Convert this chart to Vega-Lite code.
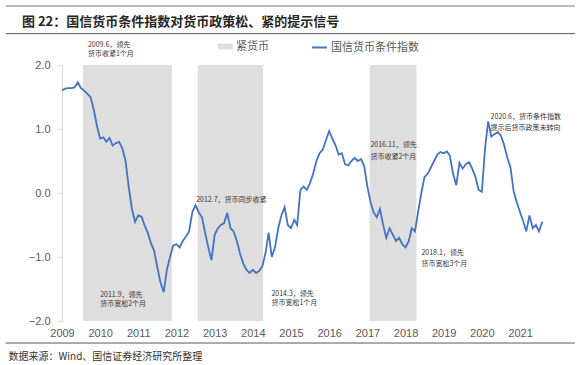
{
  "$schema": "https://vega.github.io/schema/vega-lite/v6.json",
  "width": 479,
  "height": 256,
  "autosize": {"type": "none"},
  "padding": {"left": 62, "top": 65, "right": 40, "bottom": 44},
  "background": "white",
  "title": {
    "text": "图 22：国信货币条件指数对货币政策松、紧的提示信号",
    "anchor": "start",
    "frame": "group",
    "dx": -40,
    "offset": -37,
    "baseline": "bottom",
    "font": "Noto Sans CJK SC",
    "fontSize": 13,
    "fontWeight": "bold",
    "color": "#262626"
  },
  "config": {
    "view": {"stroke": null},
    "axisY": {
      "domainColor": "#d9d9d9",
      "tickColor": "#d9d9d9",
      "tickSize": 4,
      "labelColor": "#595959",
      "labelFont": "Liberation Sans",
      "labelFontSize": 11,
      "labelPadding": 8,
      "grid": false
    },
    "axisX": {
      "domain": false,
      "ticks": false,
      "grid": false,
      "labelOverlap": false,
      "labelColor": "#595959",
      "labelFont": "Liberation Sans",
      "labelFontSize": 11,
      "labelPadding": 6,
      "titleAnchor": "start",
      "titleX": -54,
      "titleY": 35,
      "titleAlign": "left",
      "titleBaseline": "middle",
      "titleFont": "Noto Sans CJK SC",
      "titleFontSize": 10,
      "titleFontWeight": "normal",
      "titleColor": "#333333"
    }
  },
  "layer": [
    {
      "data": {"values": [
        {"start": "2009-07-20", "end": "2011-11-18"},
        {"start": "2012-07-22", "end": "2014-04-08"},
        {"start": "2017-01-22", "end": "2018-04-15"}
      ]},
      "mark": {"type": "rect"},
      "encoding": {
        "x": {"field": "start", "type": "temporal", "title": "数据来源：Wind、国信证券经济研究所整理",
              "scale": {"domain": ["2009-01-01", "2021-07-20"]}},
        "x2": {"field": "end"},
        "fill": {
          "datum": "紧货币",
          "type": "nominal",
          "scale": {"range": ["#dedede"]},
          "legend": {
            "orient": "none", "legendX": 156, "legendY": -26, "title": null, "padding": 0,
            "symbolType": "M-1,-0.4H1V0.4H-1Z", "symbolSize": 225, "symbolStrokeWidth": 0,
            "labelFont": "Noto Sans CJK SC", "labelFontSize": 11, "labelColor": "#595959", "labelOffset": 3
          }
        }
      }
    },
    {
      "data": {"values": [
        {"d": "2009-01-01", "v": 1.60}, {"d": "2009-02-01", "v": 1.63}, {"d": "2009-03-01", "v": 1.64}, {"d": "2009-04-01", "v": 1.64},
        {"d": "2009-05-01", "v": 1.65}, {"d": "2009-06-01", "v": 1.73}, {"d": "2009-07-01", "v": 1.64}, {"d": "2009-08-01", "v": 1.60},
        {"d": "2009-09-01", "v": 1.55}, {"d": "2009-10-01", "v": 1.50}, {"d": "2009-11-01", "v": 1.30}, {"d": "2009-12-01", "v": 1.05},
        {"d": "2010-01-01", "v": 0.85}, {"d": "2010-02-01", "v": 0.87}, {"d": "2010-03-01", "v": 0.80}, {"d": "2010-04-01", "v": 0.86},
        {"d": "2010-05-01", "v": 0.74}, {"d": "2010-06-01", "v": 0.78}, {"d": "2010-07-01", "v": 0.80}, {"d": "2010-08-01", "v": 0.70},
        {"d": "2010-09-01", "v": 0.50}, {"d": "2010-10-01", "v": 0.10}, {"d": "2010-11-01", "v": -0.25}, {"d": "2010-12-01", "v": -0.45},
        {"d": "2011-01-01", "v": -0.35}, {"d": "2011-02-01", "v": -0.37}, {"d": "2011-03-01", "v": -0.50}, {"d": "2011-04-01", "v": -0.62},
        {"d": "2011-05-01", "v": -0.78}, {"d": "2011-06-01", "v": -0.90}, {"d": "2011-07-01", "v": -1.15}, {"d": "2011-08-01", "v": -1.40},
        {"d": "2011-09-01", "v": -1.55}, {"d": "2011-10-01", "v": -1.20}, {"d": "2011-11-01", "v": -1.00}, {"d": "2011-12-01", "v": -0.82},
        {"d": "2012-01-01", "v": -0.80}, {"d": "2012-02-01", "v": -0.85}, {"d": "2012-03-01", "v": -0.75}, {"d": "2012-04-01", "v": -0.68},
        {"d": "2012-05-01", "v": -0.60}, {"d": "2012-06-01", "v": -0.30}, {"d": "2012-07-01", "v": -0.19}, {"d": "2012-08-01", "v": -0.30},
        {"d": "2012-09-01", "v": -0.38}, {"d": "2012-10-01", "v": -0.62}, {"d": "2012-11-01", "v": -0.85}, {"d": "2012-12-01", "v": -1.05},
        {"d": "2013-01-01", "v": -0.65}, {"d": "2013-02-01", "v": -0.55}, {"d": "2013-03-01", "v": -0.50}, {"d": "2013-04-01", "v": -0.47},
        {"d": "2013-05-01", "v": -0.31}, {"d": "2013-06-01", "v": -0.55}, {"d": "2013-07-01", "v": -0.60}, {"d": "2013-08-01", "v": -0.75},
        {"d": "2013-09-01", "v": -0.95}, {"d": "2013-10-01", "v": -1.10}, {"d": "2013-11-01", "v": -1.20}, {"d": "2013-12-01", "v": -1.25},
        {"d": "2014-01-01", "v": -1.20}, {"d": "2014-02-01", "v": -1.25}, {"d": "2014-03-01", "v": -1.22}, {"d": "2014-04-01", "v": -1.15},
        {"d": "2014-05-01", "v": -0.95}, {"d": "2014-06-01", "v": -0.62}, {"d": "2014-07-01", "v": -1.00}, {"d": "2014-08-01", "v": -0.85},
        {"d": "2014-09-01", "v": -0.55}, {"d": "2014-10-01", "v": -0.35}, {"d": "2014-11-01", "v": -0.22}, {"d": "2014-12-01", "v": -0.50},
        {"d": "2015-01-01", "v": -0.55}, {"d": "2015-02-01", "v": -0.42}, {"d": "2015-03-01", "v": -0.50}, {"d": "2015-04-01", "v": 0.05},
        {"d": "2015-05-01", "v": 0.10}, {"d": "2015-06-01", "v": 0.05}, {"d": "2015-07-01", "v": 0.15}, {"d": "2015-08-01", "v": 0.30},
        {"d": "2015-09-01", "v": 0.50}, {"d": "2015-10-01", "v": 0.62}, {"d": "2015-11-01", "v": 0.68}, {"d": "2015-12-01", "v": 0.82},
        {"d": "2016-01-01", "v": 0.97}, {"d": "2016-02-01", "v": 0.85}, {"d": "2016-03-01", "v": 0.75}, {"d": "2016-04-01", "v": 0.60},
        {"d": "2016-05-01", "v": 0.62}, {"d": "2016-06-01", "v": 0.45}, {"d": "2016-07-01", "v": 0.43}, {"d": "2016-08-01", "v": 0.50},
        {"d": "2016-09-01", "v": 0.55}, {"d": "2016-10-01", "v": 0.50}, {"d": "2016-11-01", "v": 0.53}, {"d": "2016-12-01", "v": 0.42},
        {"d": "2017-01-01", "v": 0.10}, {"d": "2017-02-01", "v": -0.15}, {"d": "2017-03-01", "v": -0.30}, {"d": "2017-04-01", "v": -0.38},
        {"d": "2017-05-01", "v": -0.25}, {"d": "2017-06-01", "v": -0.50}, {"d": "2017-07-01", "v": -0.70}, {"d": "2017-08-01", "v": -0.55},
        {"d": "2017-09-01", "v": -0.65}, {"d": "2017-10-01", "v": -0.75}, {"d": "2017-11-01", "v": -0.70}, {"d": "2017-12-01", "v": -0.80},
        {"d": "2018-01-01", "v": -0.85}, {"d": "2018-02-01", "v": -0.75}, {"d": "2018-03-01", "v": -0.55}, {"d": "2018-04-01", "v": -0.60},
        {"d": "2018-05-01", "v": -0.30}, {"d": "2018-06-01", "v": 0.00}, {"d": "2018-07-01", "v": 0.25}, {"d": "2018-08-01", "v": 0.30},
        {"d": "2018-09-01", "v": 0.40}, {"d": "2018-10-01", "v": 0.50}, {"d": "2018-11-01", "v": 0.60}, {"d": "2018-12-01", "v": 0.64},
        {"d": "2019-01-01", "v": 0.62}, {"d": "2019-02-01", "v": 0.65}, {"d": "2019-03-01", "v": 0.58}, {"d": "2019-04-01", "v": 0.30},
        {"d": "2019-05-01", "v": 0.12}, {"d": "2019-06-01", "v": 0.47}, {"d": "2019-07-01", "v": 0.38}, {"d": "2019-08-01", "v": 0.45},
        {"d": "2019-09-01", "v": 0.48}, {"d": "2019-10-01", "v": 0.38}, {"d": "2019-11-01", "v": 0.25}, {"d": "2019-12-01", "v": 0.05},
        {"d": "2020-01-01", "v": 0.02}, {"d": "2020-02-01", "v": 0.70}, {"d": "2020-03-01", "v": 1.12}, {"d": "2020-04-01", "v": 0.88},
        {"d": "2020-05-01", "v": 0.92}, {"d": "2020-06-01", "v": 0.95}, {"d": "2020-07-01", "v": 0.90}, {"d": "2020-08-01", "v": 0.75},
        {"d": "2020-09-01", "v": 0.55}, {"d": "2020-10-01", "v": 0.40}, {"d": "2020-11-01", "v": 0.02}, {"d": "2020-12-01", "v": -0.15},
        {"d": "2021-01-01", "v": -0.30}, {"d": "2021-02-01", "v": -0.45}, {"d": "2021-03-01", "v": -0.60}, {"d": "2021-04-01", "v": -0.35},
        {"d": "2021-05-01", "v": -0.55}, {"d": "2021-06-01", "v": -0.50}, {"d": "2021-07-01", "v": -0.60}, {"d": "2021-08-01", "v": -0.45}
      ]},
      "mark": {"type": "line", "strokeWidth": 1.8, "clip": false},
      "encoding": {
        "x": {"field": "d", "type": "temporal", "title": "数据来源：Wind、国信证券经济研究所整理",
              "scale": {"domain": ["2009-01-01", "2021-07-20"]},
              "axis": {"format": "%Y", "labelOverlap": false, "labelBound": false, "labelFlush": false, "tickCount": 13,
                "values": ["2009-01-01", "2010-01-01", "2011-01-01", "2012-01-01", "2013-01-01", "2014-01-01", "2015-01-01",
                           "2016-01-01", "2017-01-01", "2018-01-01", "2019-01-01", "2020-01-01", "2021-01-01"]}},
        "y": {"field": "v", "type": "quantitative", "title": null,
              "scale": {"domain": [-2, 2], "nice": false},
              "axis": {"values": [-2, -1.5, -1, -0.5, 0, 0.5, 1, 1.5, 2], "format": ".1f"}},
        "stroke": {
          "datum": "国信货币条件指数",
          "type": "nominal",
          "scale": {"range": ["#4472c4"]},
          "legend": {
            "orient": "none", "legendX": 249, "legendY": -26, "title": null, "padding": 0,
            "symbolType": "stroke", "symbolSize": 225, "symbolStrokeWidth": 2,
            "labelFont": "Noto Sans CJK SC", "labelFontSize": 11, "labelColor": "#595959", "labelOffset": 3
          }
        }
      }
    },
    {
      "data": {"values": [
        {"d": "2009-09-06", "v": 2.31, "t": "2009.6，领先"},
        {"d": "2009-09-06", "v": 2.17, "t": "货币收紧1个月"},
        {"d": "2010-01-01", "v": -1.59, "t": "2011.9，领先"},
        {"d": "2010-01-01", "v": -1.73, "t": "货币宽松2个月"},
        {"d": "2012-07-08", "v": -0.11, "t": "2012.7，货币同步收紧"},
        {"d": "2014-06-28", "v": -1.58, "t": "2014.3，领先"},
        {"d": "2014-06-28", "v": -1.72, "t": "货币宽松1个月"},
        {"d": "2017-01-30", "v": 0.75, "t": "2016.11，领先"},
        {"d": "2017-01-30", "v": 0.56, "t": "货币收紧2个月"},
        {"d": "2018-06-02", "v": -0.94, "t": "2018.1，领先"},
        {"d": "2018-06-02", "v": -1.11, "t": "货币宽松3个月"},
        {"d": "2020-03-25", "v": 1.19, "t": "2020.6，货币条件指数"},
        {"d": "2020-03-25", "v": 1.02, "t": "提示后货币政策未转向"}
      ]},
      "mark": {"type": "text", "align": "left", "baseline": "middle", "font": "Noto Sans CJK SC", "fontSize": 7, "color": "#333333"},
      "encoding": {
        "x": {"field": "d", "type": "temporal", "title": "数据来源：Wind、国信证券经济研究所整理"},
        "y": {"field": "v", "type": "quantitative", "title": null},
        "text": {"field": "t"}
      }
    },
    {
      "data": {"values": [{}]},
      "mark": {"type": "rule", "color": "#a6a6a6", "strokeWidth": 1.5},
      "encoding": {
        "x": {"datum": {"year": 2007, "month": 7, "date": 12}, "type": "temporal", "title": "数据来源：Wind、国信证券经济研究所整理"},
        "x2": {"datum": {"year": 2022, "month": 6, "date": 10}},
        "y": {"datum": 2.92, "type": "quantitative", "title": null}
      }
    },
    {
      "data": {"values": [{}]},
      "mark": {"type": "rule", "color": "#595959", "strokeWidth": 1},
      "encoding": {
        "x": {"datum": {"year": 2007, "month": 7, "date": 12}, "type": "temporal", "title": "数据来源：Wind、国信证券经济研究所整理"},
        "x2": {"datum": {"year": 2022, "month": 6, "date": 10}},
        "y": {"datum": 2.49, "type": "quantitative", "title": null}
      }
    },
    {
      "data": {"values": [{}]},
      "mark": {"type": "rule", "color": "#595959", "strokeWidth": 1},
      "encoding": {
        "x": {"datum": {"year": 2007, "month": 7, "date": 12}, "type": "temporal", "title": "数据来源：Wind、国信证券经济研究所整理"},
        "x2": {"datum": {"year": 2022, "month": 6, "date": 10}},
        "y": {"datum": -2.344, "type": "quantitative", "title": null}
      }
    }
  ]
}
